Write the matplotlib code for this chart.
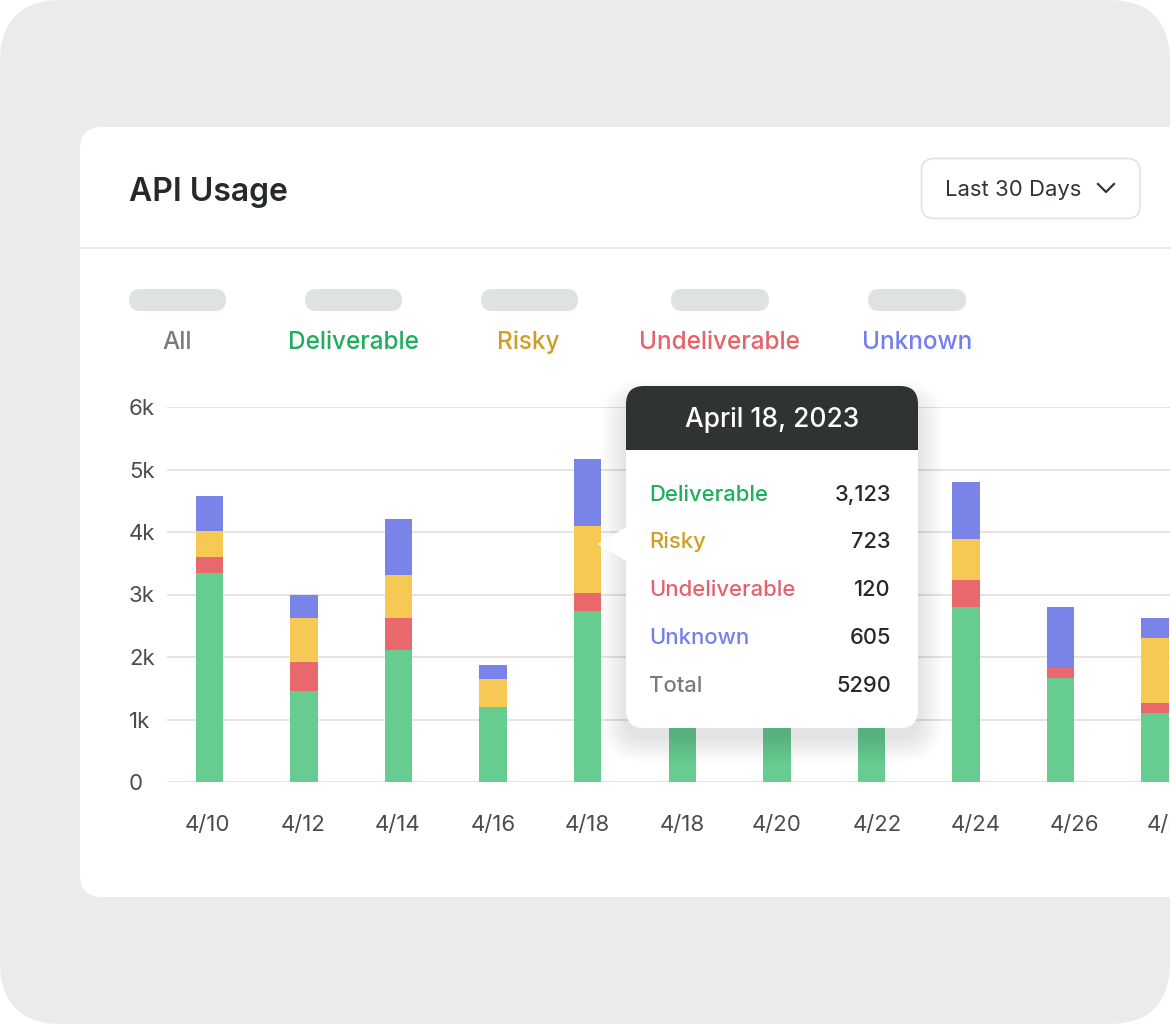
import matplotlib
matplotlib.use("Agg")
import matplotlib.pyplot as plt
from matplotlib.patches import FancyBboxPatch, Rectangle, Polygon
import numpy as np

plt.rcParams["font.family"] = ["Inter", "DejaVu Sans"]

W, H = 1170, 1024

dates = ["4/10", "4/12", "4/14", "4/16", "4/18", "4/18", "4/20", "4/22", "4/24", "4/26", "4/28"]
deliverable = [3340, 1455, 2110, 1200, 2735, 2000, 1800, 2200, 2800, 1665, 1105]
undeliverable = [260, 465, 510, 0, 290, 300, 250, 350, 430, 160, 160]
risky = [415, 705, 690, 450, 1070, 700, 500, 800, 655, 0, 1040]
unknown = [560, 365, 900, 220, 1070, 600, 450, 700, 915, 975, 320]
y_ticks = [0, 1000, 2000, 3000, 4000, 5000, 6000]
y_labels = ["0", "1k", "2k", "3k", "4k", "5k", "6k"]

legend_names = ["All", "Deliverable", "Risky", "Undeliverable", "Unknown"]
legend_colors = ["#7b7c74", "#1fae5b", "#cf9e26", "#e5626a", "#737ef0"]

tip_title = "April 18, 2023"
tip_names = ["Deliverable", "Risky", "Undeliverable", "Unknown", "Total"]
tip_values = ["3,123", "723", "120", "605", "5290"]
tip_colors = ["#1fae5b", "#cf9e26", "#e5626a", "#737ef0", "#7b7c74"]

BAR_COLORS = ["#66cc8f", "#e9686b", "#f6c955", "#7983e8"]
GRID = "#e2e3db"


def px_ax(fig, z):
    ax = fig.add_axes([0, 0, 1, 1], zorder=z)
    ax.set_xlim(0, W)
    ax.set_ylim(H, 0)
    ax.axis("off")
    ax.patch.set_alpha(0)
    return ax


def rbox(ax, x0, y0, x1, y1, r, **kw):
    p = FancyBboxPatch((x0, y0), x1 - x0, y1 - y0, boxstyle=f"round,pad=0,rounding_size={r}", **kw)
    ax.add_patch(p)
    return p


fig = plt.figure(figsize=(W / 100, H / 100), dpi=100, facecolor="white")

# page background + card
bg = px_ax(fig, 0)
rbox(bg, 0, 0, W, H, 62, fc="#eaece9", ec="none")
rbox(bg, 80, 127, W + 60, 897, 22, fc="white", ec="none")
bg.plot([80, W], [248, 248], color=GRID, lw=1.1)
bg.text(129, 193, "API Usage", fontsize=23, fontweight=600, color="#232a28", va="center", ha="left")
rbox(bg, 921.5, 158.5, 1140, 218.5, 13, fc="white", ec=GRID, lw=1.2)
bg.text(945, 190, "Last 30 Days", fontsize=15.9, color="#2f3533", va="center", ha="left")
bg.plot([1098, 1106, 1114], [184, 192, 184], color="#2f3533", lw=1.6)

pill_x = [(129, 226), (305, 402), (481, 578), (671, 769), (868, 966)]
legend_x = [177, 353, 528, 719, 917]
for (x0, x1), lx, name, col in zip(pill_x, legend_x, legend_names, legend_colors):
    rbox(bg, x0, 289, x1, 311, 11, fc="#dfe3e0", ec="none")
    bg.text(lx, 349, name, fontsize=17.5, fontweight=500, color=col, va="baseline", ha="center")

# chart, axes run past the right edge so the last label is cut by the figure
left, right, bottom, top = 167, 1230, 782, 407
ax = fig.add_axes([left / W, 1 - bottom / H, (right - left) / W, (bottom - top) / H], zorder=1)
ax.patch.set_alpha(0)
pos = np.arange(len(dates))
ax.set_xlim((left - 209.5) / 94.55, (right - 209.5) / 94.55)
ax.set_ylim(0, 6000)
base = np.zeros(len(dates))
for vals, col in zip([deliverable, undeliverable, risky, unknown], BAR_COLORS):
    ax.bar(pos, vals, width=0.29, bottom=base, color=col, zorder=3)
    base += np.array(vals)
ax.set_yticks(y_ticks, y_labels)
# labels drift away from the bars in the original
label_px = np.array([208, 303, 398, 493, 587, 682, 777, 877, 975.5, 1074.5, 1172])
ax.set_xticks((label_px - 209.5) / 94.55, dates)
ax.grid(axis="y", color=GRID, lw=1.3, zorder=0)
for s in ax.spines.values():
    s.set_visible(False)
ax.tick_params(axis="both", length=0, labelsize=16, labelcolor="#4b4d4b")
ax.tick_params(axis="x", pad=23.5)
ax.tick_params(axis="y", pad=27.4)
for t in ax.get_yticklabels():
    t.set_horizontalalignment("left")

# tooltip
tip = px_ax(fig, 2)
for i in range(14):
    g = 1.9 * i
    rbox(tip, 626 - g, 404 - g, 918 + g, 738 + g, 18 + g, fc="#1c2a30", ec="none", alpha=0.006)
tip.add_patch(Polygon([[598, 544], [626, 527], [626, 561]], closed=True, fc="white", ec="none", joinstyle="round"))
rbox(tip, 626, 386, 918, 728, 18, fc="white", ec="none")
head = rbox(tip, 626, 386, 918, 728, 18, fc="#303430", ec="none")
head.set_clip_path(Rectangle((626, 386), 292, 64, transform=tip.transData))
tip.text(772.5, 420, tip_title, fontsize=19, fontweight=500, color="white", va="center", ha="center")
row_y = [501, 548, 596, 644, 692]
for y, name, val, col in zip(row_y, tip_names, tip_values, tip_colors):
    tip.text(649.5, y, name, fontsize=15.9, fontweight=500, color=col, va="baseline", ha="left")
    tip.text(891, y, val, fontsize=15.7, fontweight=500, color="#26292a", va="baseline", ha="right")

fig.savefig("out.png", dpi=100)
